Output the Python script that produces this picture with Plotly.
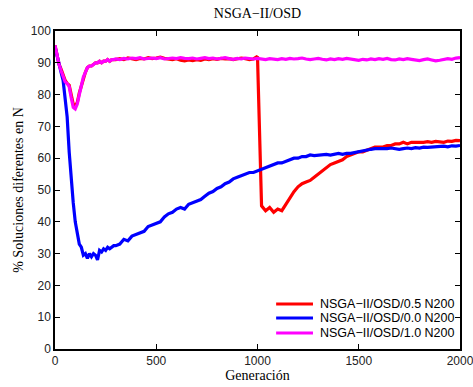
import plotly.graph_objects as go

# Generations sampled (x values)
generations = list(range(0, 300, 10)) + list(range(300, 2001, 20))

# NSGA-II/OSD/0.5 N200 (red)
osd_05 = [
    95.5, 92.0, 89.5, 88.0, 86.0, 84.5, 83.5, 83.0, 80.0, 77.0,
    76.5, 77.5, 80.5, 83.0, 85.5, 87.0, 88.5, 89.0, 89.0, 89.5,
    90.0, 90.0, 90.5, 90.0, 90.5, 90.5, 91.0, 90.5, 91.0, 91.0,
    # 300..
    91.0, 91.3, 91.0, 91.5, 91.2, 91.0, 91.4, 91.2, 91.6, 91.3,
    91.5, 91.8, 91.4, 91.2, 91.0, 91.3, 90.8, 90.6, 90.9, 90.7,
    91.0, 90.8, 91.2, 91.0, 91.3, 91.1, 91.4, 91.2, 91.3, 91.0,
    91.2, 91.5, 91.3, 91.0, 91.2,
    # 1000..
    92.0, 45.0, 43.5, 44.5, 43.0, 44.0, 43.5, 45.5, 47.5, 49.5,
    51.0, 52.0, 52.5, 53.0, 54.0, 55.0, 56.0, 57.0, 58.0, 58.5,
    59.0, 59.5, 60.5, 61.0, 61.5, 62.0, 62.0, 62.5, 63.0, 63.5,
    63.5, 63.5, 64.0, 64.0, 64.5, 64.5, 65.0, 64.5, 65.0, 65.0,
    64.8, 65.0, 65.2, 65.0, 65.3, 65.2, 65.0, 65.4, 65.3, 65.6,
    65.5,
]

# NSGA-II/OSD/0.0 N200 (blue)
osd_00 = [
    95.0, 92.0, 89.5, 87.0, 84.5, 79.0, 73.0, 62.0, 53.0, 46.0,
    40.0, 36.5, 33.0, 32.0, 29.5, 30.0, 28.5, 30.0, 29.0, 30.0,
    29.5, 28.0, 31.0, 30.5, 31.5, 31.0, 32.0, 31.5, 32.0, 32.5,
    # 300..
    32.5, 33.0, 34.5, 34.0, 35.5, 36.0, 36.5, 37.0, 38.5, 39.0,
    39.5, 40.0, 41.5, 42.5, 43.0, 44.0, 44.5, 44.0, 45.5, 46.0,
    46.5, 47.0, 48.0, 49.0, 49.5, 50.5, 51.0, 52.0, 52.5, 53.5,
    54.0, 54.5, 55.0, 55.5, 55.5, 56.0, 56.5, 57.0, 57.5, 58.0,
    58.5, 58.5, 59.0, 59.5, 60.0, 60.0, 60.5, 60.5, 61.0, 60.8,
    61.0, 61.0, 61.2, 61.0, 61.3, 61.5, 61.2, 61.5, 61.5, 61.8,
    62.0, 62.2, 62.5, 62.8, 63.0, 63.0, 62.8, 63.0, 63.2, 63.0,
    62.8, 63.0, 63.2, 63.0, 63.3, 63.2, 63.5, 63.4, 63.5, 63.6,
    63.5, 63.8, 63.6, 63.9, 63.8, 64.0,
]

# NSGA-II/OSD/1.0 N200 (magenta)
osd_10 = [
    95.5, 92.0, 89.5, 87.5, 85.5, 84.0, 83.5, 82.5, 79.0, 76.0,
    75.5, 77.0, 80.0, 83.0, 85.5, 87.0, 88.5, 89.0, 89.0, 89.5,
    90.0, 90.0, 90.5, 90.0, 90.5, 90.5, 91.0, 90.5, 91.0, 91.0,
    # 300..
    91.2, 91.0, 91.4, 91.2, 91.5, 91.3, 91.6, 91.2, 91.4, 91.5,
    91.3, 91.6, 91.2, 91.4, 91.5, 91.3, 91.6, 91.4, 91.3, 91.5,
    91.2, 91.4, 91.6, 91.3, 91.5, 91.2, 91.4, 91.6, 91.3, 91.1,
    91.4, 91.2, 91.5, 91.3, 91.2, 91.4, 91.3, 91.0, 91.3, 91.2,
    91.0, 91.3, 91.1, 91.4, 91.2, 91.3, 91.5, 91.2, 91.0, 91.2,
    91.4, 91.1, 90.9, 91.2, 91.0, 91.3, 91.1, 91.4, 91.2, 91.0,
    90.8, 91.1, 90.9, 91.2, 91.0, 91.3, 91.1, 91.4, 91.0, 90.9,
    91.2, 91.0, 91.3, 91.1, 90.8, 90.7, 91.0, 91.2, 90.9, 90.6,
    90.8, 91.0, 91.3, 91.1, 91.5, 91.6,
]

series_names = ["NSGA−II/OSD/0.5 N200", "NSGA−II/OSD/0.0 N200", "NSGA−II/OSD/1.0 N200"]
series_values = [osd_05, osd_00, osd_10]
series_colors = ["#ff0000", "#0000ff", "#ff00ff"]

assert len(osd_05) == len(generations), (len(osd_05), len(generations))
assert len(osd_00) == len(generations), len(osd_00)
assert len(osd_10) == len(generations), len(osd_10)

x_ticks = [0, 500, 1000, 1500, 2000]
y_ticks = [0, 10, 20, 30, 40, 50, 60, 70, 80, 90, 100]

fig = go.Figure()
for name, vals, col in zip(series_names, series_values, series_colors):
    fig.add_trace(go.Scatter(x=generations, y=vals, mode="lines", name=name,
                             line=dict(color=col, width=3.2), showlegend=False))

# Compact legend box (MATLAB-style spacing), built from the series lists
legend_rows_y = [0.1415, 0.0975, 0.0503]
for name, col, ly in zip(series_names, series_colors, legend_rows_y):
    fig.add_shape(type="line", xref="paper", yref="paper", x0=0.546, x1=0.637,
                  y0=ly, y1=ly, line=dict(color=col, width=3))
    fig.add_annotation(xref="paper", yref="paper", x=0.649, y=ly, text=name,
                       showarrow=False, xanchor="left", yanchor="middle",
                       font=dict(family="Liberation Sans", size=12.5, color="black"))

axis_common = dict(showgrid=False, zeroline=False, showline=True, linecolor="black",
                   linewidth=1.5, mirror="ticks", ticks="inside", ticklen=5,
                   tickcolor="black", automargin=False, ticklabeloverflow="allow",
                   tickfont=dict(family="Liberation Sans", size=12, color="#222"))

fig.update_layout(
    width=473, height=387,
    margin=dict(l=55, r=13, t=31, b=38),
    paper_bgcolor="white", plot_bgcolor="white",
    title=dict(text="NSGA−II/OSD", x=0.5443, xanchor="center", y=0.966, yanchor="middle",
               font=dict(family="Liberation Serif", size=14, color="black")),
    xaxis=dict(range=[0, 2000], tickvals=x_ticks,
               title=dict(text="Generación", standoff=1,
                          font=dict(family="Liberation Serif", size=14, color="black")),
               **axis_common),
    yaxis=dict(range=[0, 100], tickvals=y_ticks,
               title=dict(text="% Soluciones diferentes en N", standoff=4,
                          font=dict(family="Liberation Serif", size=14, color="black")),
               **axis_common),
    showlegend=False,
)

fig.write_html("out.html")
